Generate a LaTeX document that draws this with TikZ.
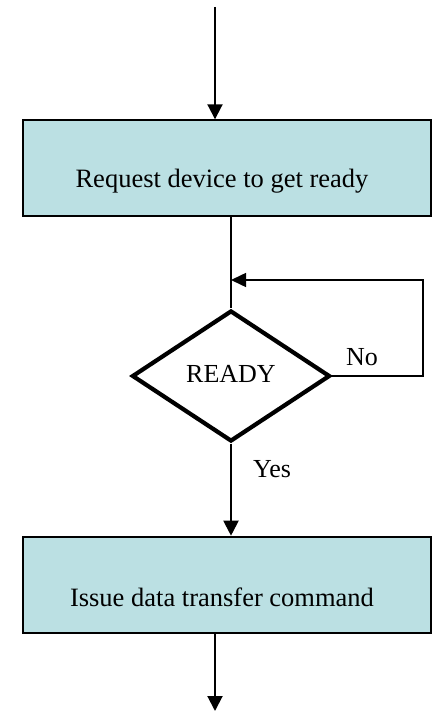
\documentclass[tikz,border=0pt]{standalone}
\usepackage{fontspec}
\setmainfont{Liberation Serif}
\usetikzlibrary{shapes.geometric,arrows.meta}
\definecolor{boxfill}{HTML}{BBE0E3}
% move the text of a box down and left without changing the box size
\newcommand{\lowertext}[1]{\hspace*{-10pt}\raisebox{-13pt}[\height][\depth]{#1}}
\tikzset{
  procbox/.style={draw, line width=2pt, fill=boxfill, rectangle,
    minimum width=408pt, minimum height=96pt, inner sep=0pt,
    font=\fontsize{26.5}{30}\selectfont},
  decision/.style={draw, line width=4.2pt, diamond, fill=white,
    minimum width=198pt, minimum height=131pt, inner sep=0pt,
    font=\fontsize{26}{30}\selectfont},
  flow/.style={line width=2pt, -{Triangle[length=15pt,width=15pt]}},
  loopline/.style={line width=1.5pt, -{Triangle[length=15pt,width=14pt]}},
  tag/.style={font=\fontsize{26}{30}\selectfont, inner sep=0pt}
}
\begin{document}
\begin{tikzpicture}[x=1pt,y=-1pt]
  \useasboundingbox (0,0) rectangle (432,711);

  % boxes and the decision
  \node[procbox] (req) at (227,168.3) {\lowertext{Request device to get ready}};
  \node[decision] (dia) at (231,376) {\raisebox{5pt}{READY}};
  \node[procbox] (xfer) at (227,584.7) {\lowertext{Issue data transfer command}};

  % free ends and bends
  \coordinate (start) at (215,7);
  \coordinate (finish) at (215,711);
  \coordinate (loopr) at (423,280);
  \coordinate (merge) at (231,280);

  % connectors
  \draw[flow] (start) -- (start |- req.north);
  \draw[line width=2pt] (req.south -| dia.north) -- (dia.north);
  \draw[loopline] (dia.east) -| (loopr) -- (merge);
  \draw[flow] (dia.south) -- (xfer.north -| dia.south);
  \draw[flow] (xfer.south -| start) -- (finish);

  % branch labels
  \node[tag] (no) at (362,357) {No};
  \node[tag] (yes) at (272,469) {Yes};
\end{tikzpicture}
\end{document}
